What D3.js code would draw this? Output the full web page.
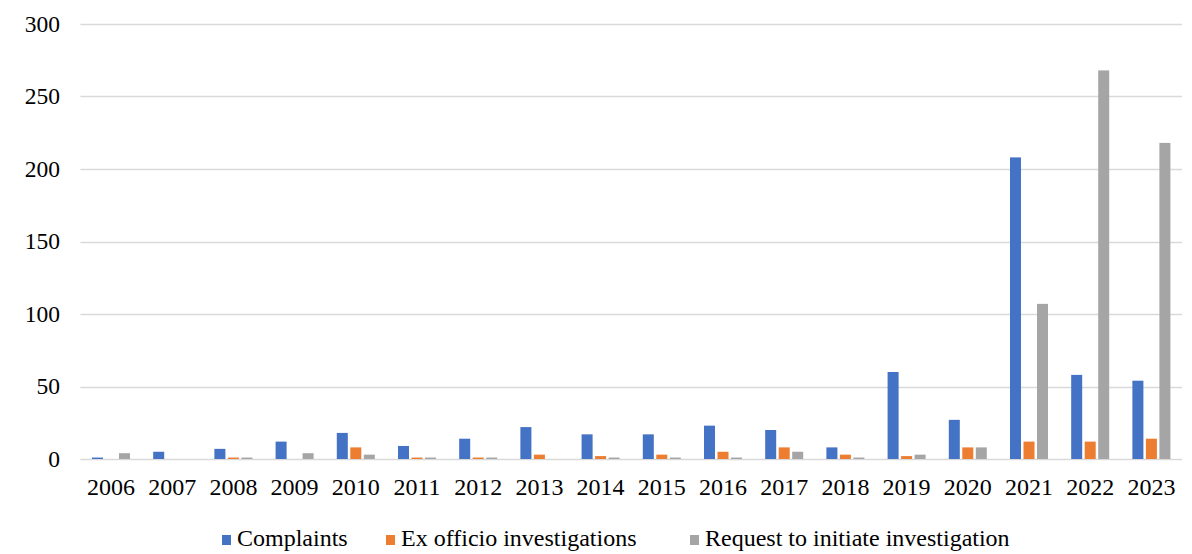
<!DOCTYPE html>
<html>
<head>
<meta charset="utf-8">
<script src="https://cdn.jsdelivr.net/npm/d3@7"></script>
<style>
  html, body { margin: 0; padding: 0; background: #fff; }
  svg { display: block; }
</style>
</head>
<body>
<svg id="chart" width="1192" height="554"></svg>
<script>
// Case counts per year, grouped by how the case was opened
const years = ["2006","2007","2008","2009","2010","2011","2012","2013","2014","2015",
               "2016","2017","2018","2019","2020","2021","2022","2023"];
const complaints = [1, 5, 7, 12, 18, 9, 14, 22, 17, 17, 23, 20, 8, 60, 27, 208, 58, 54];
const exOfficio  = [0, 0, 1, 0, 8, 1, 1, 3, 2, 3, 5, 8, 3, 2, 8, 12, 12, 14];
const requests   = [4, 0, 1, 4, 3, 1, 1, 0, 1, 1, 1, 5, 1, 3, 8, 107, 268, 218];
const seriesNames = ["Complaints", "Ex officio investigations", "Request to initiate investigation"];
const seriesColors = ["#4472C4", "#ED7D31", "#A5A5A5"];
const yTicks = [0, 50, 100, 150, 200, 250, 300];

const FONT = "'Liberation Serif', 'Times New Roman', Tinos, 'DejaVu Serif', serif";

const seriesValues = [complaints, exOfficio, requests];
const rows = years.map((y, i) => ({ year: y, values: seriesValues.map(s => s[i]) }));

const svg = d3.select("#chart");
const margin = { left: 80.4, right: 1192 - 1182, top: 24, bottom: 554 - 459 };
const W = 1192, H = 554;

const x0 = d3.scaleBand()
  .domain(years)
  .range([margin.left, W - margin.right])
  .paddingInner(0.338)
  .paddingOuter(0.169);

const x1 = d3.scaleBand()
  .domain(d3.range(seriesNames.length))
  .range([0, x0.bandwidth()])
  .paddingInner(0.185)
  .paddingOuter(0.0925);

const y = d3.scaleLinear()
  .domain([0, 300])
  .range([H - margin.bottom, margin.top]);

// horizontal gridlines
svg.append("g")
  .selectAll("line")
  .data(yTicks)
  .join("line")
  .attr("x1", margin.left)
  .attr("x2", W - margin.right)
  .attr("y1", d => Math.round(y(d)) + 0.5)
  .attr("y2", d => Math.round(y(d)) + 0.5)
  .attr("stroke", "#d9d9d9")
  .attr("stroke-width", 1.3);

// y-axis labels
svg.append("g")
  .selectAll("text")
  .data(yTicks)
  .join("text")
  .attr("x", 60)
  .attr("y", d => y(d))
  .attr("dy", "0.34em")
  .attr("text-anchor", "end")
  .attr("font-family", FONT)
  .attr("font-size", 23.5)
  .text(d => d);

// bars
const groups = svg.append("g")
  .selectAll("g")
  .data(rows)
  .join("g")
  .attr("transform", d => `translate(${x0(d.year)},0)`);

groups.selectAll("rect")
  .data(d => d.values.map((v, k) => ({ k, v })))
  .join("rect")
  .attr("x", d => x1(d.k))
  .attr("width", x1.bandwidth())
  .attr("y", d => y(d.v))
  .attr("height", d => y(0) - y(d.v))
  .attr("fill", d => seriesColors[d.k]);

// x-axis labels
svg.append("g")
  .selectAll("text")
  .data(years)
  .join("text")
  .attr("x", d => x0(d) + x0.bandwidth() / 2)
  .attr("y", 495)
  .attr("text-anchor", "middle")
  .attr("font-family", FONT)
  .attr("font-size", 24)
  .text(d => d);

// legend
const legendX = [222, 386, 690];
const legend = svg.append("g")
  .selectAll("g")
  .data(seriesNames)
  .join("g")
  .attr("transform", (d, i) => `translate(${legendX[i]},0)`);

legend.append("rect")
  .attr("x", 0)
  .attr("y", 535)
  .attr("width", 9)
  .attr("height", 10)
  .attr("fill", (d, i) => seriesColors[i]);

legend.append("text")
  .attr("x", 15)
  .attr("y", 546)
  .attr("font-family", FONT)
  .attr("font-size", 24)
  .text(d => d);
</script>
</body>
</html>
